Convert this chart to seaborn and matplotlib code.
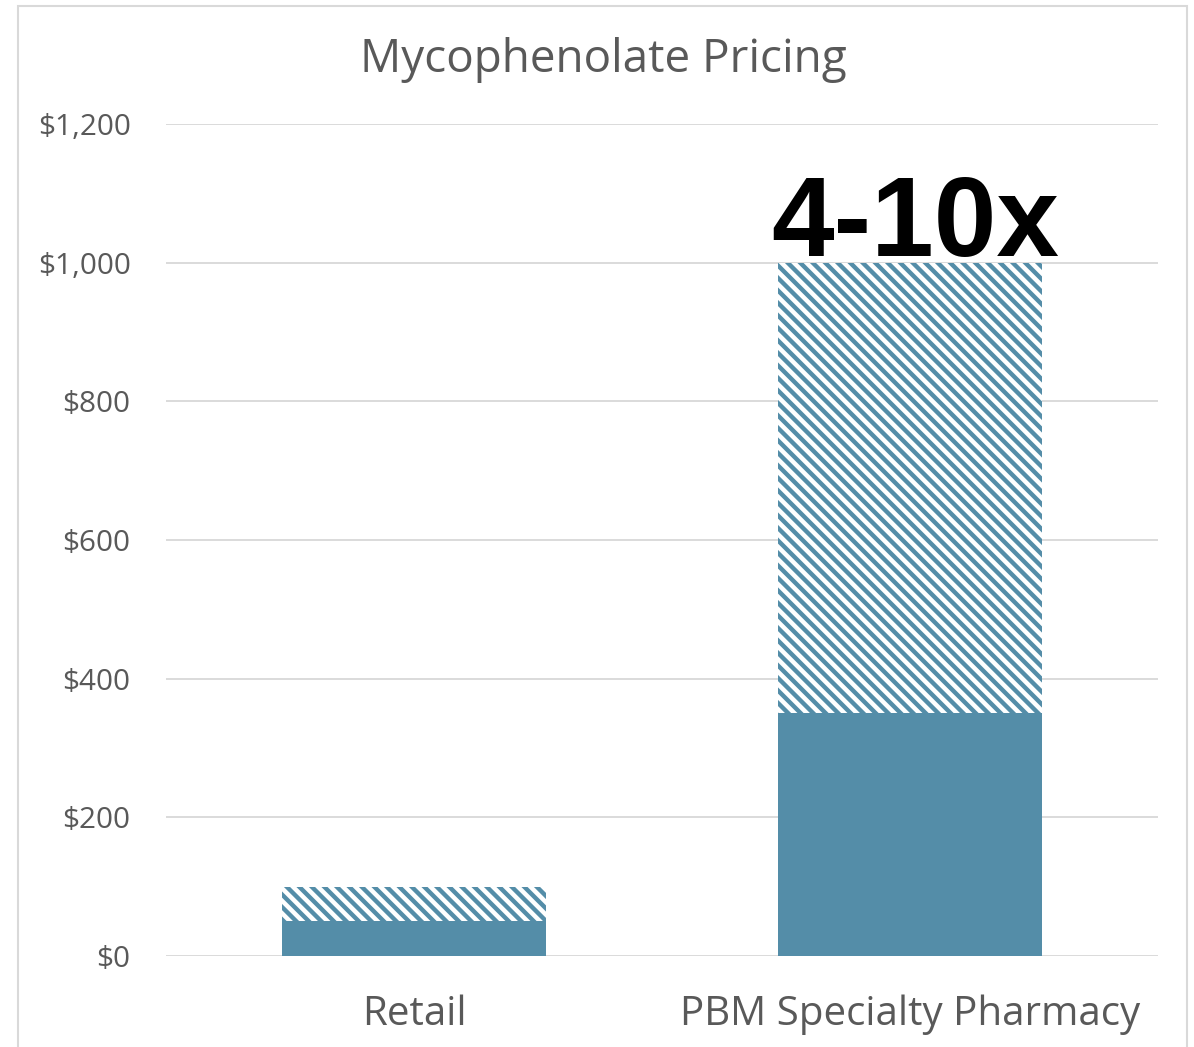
import pandas as pd
import matplotlib.pyplot as plt
import seaborn as sns
from matplotlib.patches import Rectangle
from matplotlib.ticker import FuncFormatter

sns.set_style('white')
plt.rcParams['font.family'] = ['Open Sans', 'DejaVu Sans']
plt.rcParams['hatch.linewidth'] = 2.1

# data
categories = ['Retail', 'PBM Specialty Pharmacy']
base_price = [50, 350]
high_price = [100, 1000]
callout = '4-10x'

df = pd.DataFrame({'Channel': categories, 'Base': base_price, 'High': high_price})

blue = '#548DA8'
grey_text = '#595959'
grid_col = '#D9D9D9'

DPI = 150
fig = plt.figure(figsize=(1194 / DPI, 1047 / DPI), dpi=DPI)
ax = fig.add_axes([166 / 1194, 1 - 956 / 1047, (1158 - 166) / 1194, (956 - 124) / 1047])

# hatched upper range drawn as full-height bar, solid base on top of it
sns.barplot(data=df, x='Channel', y='High', color='white', edgecolor=blue,
            hatch='\\\\\\\\', linewidth=0, width=0.534, saturation=1, ax=ax)
sns.barplot(data=df, x='Channel', y='Base', color=blue, linewidth=0,
            width=0.534, saturation=1, ax=ax)

ax.set_ylim(0, 1200)
ax.set_yticks(range(0, 1201, 200))
ax.yaxis.set_major_formatter(FuncFormatter(lambda v, p: f'${v:,.0f}'))
ax.grid(axis='y', color=grid_col, linewidth=0.9)
ax.set_axisbelow(True)
for s in ax.spines.values():
    s.set_visible(False)
ax.tick_params(axis='y', length=0, pad=17, labelsize=14.3, labelcolor=grey_text)
ax.tick_params(axis='x', length=0, pad=18.5, labelsize=19.3, labelcolor=grey_text)
ax.set_xlabel('')
ax.set_ylabel('')

ax.text(1.01, high_price[1] + 9, callout, ha='center', va='baseline',
        fontsize=54, fontweight='heavy', family=['Liberation Sans', 'DejaVu Sans'],
        color='black')

fig.text(603 / 1194, 1 - 60 / 1047, 'Mycophenolate Pricing', ha='center',
         va='center', fontsize=22, color=grey_text)

# chart area border
fig.patches.append(Rectangle((18 / 1194, -0.05), (1187 - 18) / 1194, 1.05 - 6 / 1047,
                             transform=fig.transFigure, fill=False,
                             edgecolor=grid_col, linewidth=1.0))

plt.savefig('out.png', dpi=DPI)
